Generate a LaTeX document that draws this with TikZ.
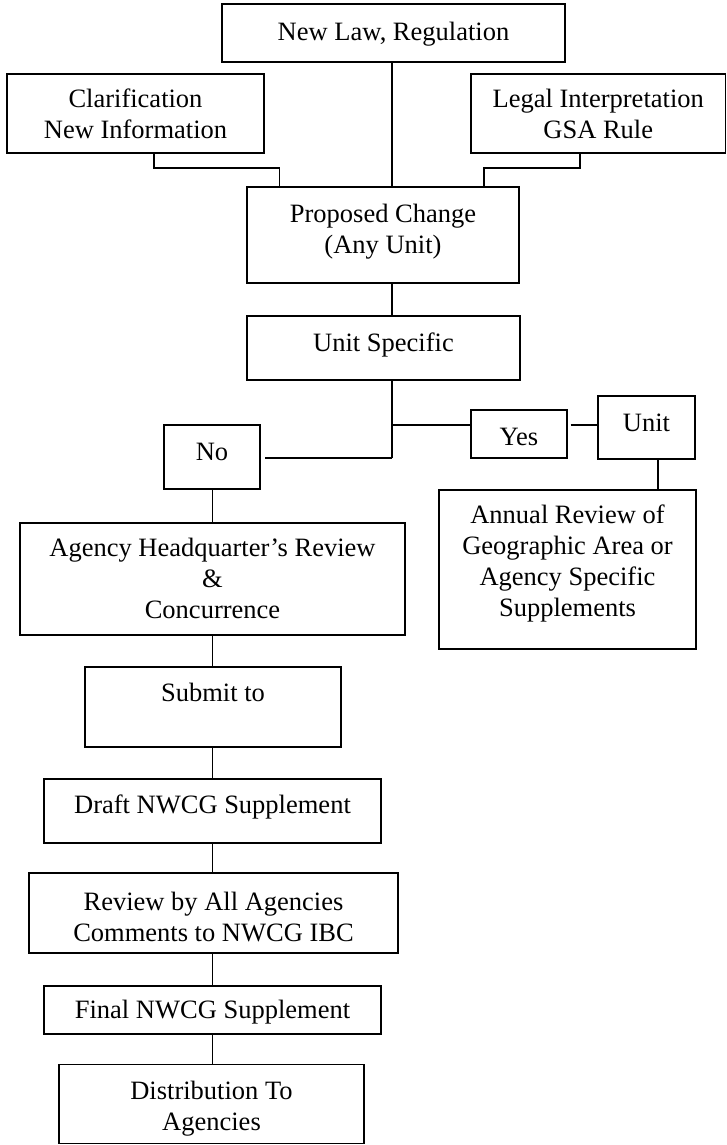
\documentclass[tikz,border=0pt]{standalone}
\usepackage{fontspec}
\setmainfont{Liberation Serif}
\begin{document}
\fontsize{13.25}{15.5}\selectfont
\begin{tikzpicture}[x=0.5pt,y=-0.5pt,
  box/.style={draw, line width=0.9pt, align=center, inner sep=0pt,
    font=\fontsize{13.25}{15.5}\selectfont, text height=9.3pt, text depth=0.5pt},
  link/.style={line width=0.9pt}]
\useasboundingbox (0,0) rectangle (727,1145);

% boxes
\node[box, minimum width=171.5pt, minimum height=29pt, text depth=1.3pt] (newlaw) at (393.5,33) {New Law, Regulation};
\node[box, minimum width=128.5pt, minimum height=39.5pt, text height=24.8pt, text depth=0pt] (clar) at (135.5,113.5) {Clarification\\New Information};
\node[box, minimum width=127.25pt, minimum height=39.5pt, text height=24.8pt, text depth=0pt] (legal) at (598.25,113.5) {Legal Interpretation\\GSA Rule};
\node[box, minimum width=136pt, minimum height=48pt, text height=24.8pt, text depth=6.5pt] (prop) at (383,235) {Proposed Change\\(Any Unit)};
\node[box, minimum width=136.5pt, minimum height=32pt, text depth=5.6pt] (unitspec) at (383.5,348) {Unit Specific};
\node[box, minimum width=48pt, minimum height=32pt, text depth=5.6pt] (no) at (212,457) {No};
\node[box, minimum width=48pt, minimum height=24pt, text height=11.9pt] (yes) at (519,434) {Yes};
\node[box, minimum width=48.5pt, minimum height=31.5pt, text depth=5.6pt] (unit) at (646.5,427.5) {Unit};
\node[box, minimum width=128.5pt, minimum height=79.5pt, text height=55.8pt, text depth=8.5pt] (annual) at (567.5,569.5) {Annual Review of\\Geographic Area or\\Agency Specific\\Supplements};
\node[box, minimum width=192.5pt, minimum height=56pt, text height=40.3pt, text depth=0.5pt] (hq) at (212.5,579) {Agency Headquarter’s Review\\\&\\Concurrence};
\node[box, minimum width=128pt, minimum height=40pt, text depth=14.6pt] (submit) at (213,707) {Submit to};
\node[box, minimum width=168.5pt, minimum height=32pt, text depth=6.5pt] (draft) at (212.5,811) {Draft NWCG Supplement};
\node[box, minimum width=184.5pt, minimum height=40pt, text height=28.5pt, text depth=0.5pt] (review) at (213.5,913) {Review by All Agencies\\Comments to NWCG IBC};
\node[box, minimum width=168.5pt, minimum height=24pt] (final) at (212.5,1010) {Final NWCG Supplement};
\node[box, minimum width=152.5pt, minimum height=39.5pt, text height=26.9pt, text depth=0.5pt] (dist) at (211.5,1104) {Distribution To\\Agencies};

% helper coordinates
\coordinate (spine) at (392,0);
\coordinate (cl1) at (154,168);
\coordinate (cl2) at (279.5,168);
\coordinate (lg1) at (580,168);
\coordinate (lg2) at (484,168);
\coordinate (br1) at (392,425);
\coordinate (br2) at (392,458);
\coordinate (ua) at (658,0);
\coordinate (low) at (212.5,0);

% connectors
\draw[link] (newlaw.south -| spine) -- (prop.north -| spine);
\draw[link] (clar.south -| cl1) -- (cl1) -- (cl2) -- (cl2 |- prop.north);
\draw[link] (legal.south -| lg1) -- (lg1) -- (lg2) -- (lg2 |- prop.north);
\draw[link] (prop.south -| spine) -- (unitspec.north -| spine);
\draw[link] (unitspec.south -| spine) -- (br1) -- (br2);
\draw[link, shorten >=2pt] (br2) -- (no.east |- br2);
\draw[link] (br1) -- (yes.west |- br1);
\draw[link, shorten <=1.3pt] (yes.east |- br1) -- (unit.west |- br1);
\draw[link] (unit.south -| ua) -- (annual.north -| ua);
\draw[link] (no.south -| low) -- (hq.north -| low);
\draw[link] (hq.south -| low) -- (submit.north -| low);
\draw[link] (submit.south -| low) -- (draft.north -| low);
\draw[link] (draft.south -| low) -- (review.north -| low);
\draw[link] (review.south -| low) -- (final.north -| low);
\draw[link] (final.south -| low) -- (dist.north -| low);
\end{tikzpicture}
\end{document}
